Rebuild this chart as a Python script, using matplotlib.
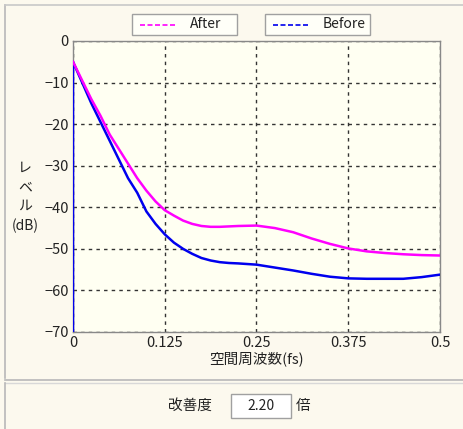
import matplotlib
matplotlib.use('Agg')
import matplotlib.pyplot as plt
from matplotlib.lines import Line2D
from matplotlib.patches import Rectangle

plt.rcParams['font.family'] = ['Noto Sans CJK JP', 'DejaVu Sans']

# spatial frequency (fs) and level (dB)
freq = [0, 0.0125, 0.025, 0.0375, 0.05, 0.0625, 0.075, 0.0875, 0.1, 0.1125,
        0.125, 0.1375, 0.15, 0.1625, 0.175, 0.1875, 0.2, 0.2125, 0.225, 0.25,
        0.275, 0.3, 0.325, 0.35, 0.375, 0.4, 0.425, 0.45, 0.475, 0.5]
before = [-5, -10, -15, -19.5, -24, -28.5, -33, -36.5, -41, -44,
          -46.5, -48.5, -50, -51.2, -52.2, -52.8, -53.2, -53.4, -53.5, -53.8,
          -54.5, -55.2, -56, -56.7, -57.1, -57.2, -57.2, -57.2, -56.8, -56.2]
after = [-5, -9.5, -14, -18, -22.5, -26, -29.5, -33, -36, -38.6,
         -40.7, -42, -43.2, -44, -44.5, -44.7, -44.7, -44.6, -44.5, -44.4,
         -45, -46, -47.5, -48.8, -49.9, -50.6, -51, -51.3, -51.5, -51.6]
xticks = [0, 0.125, 0.25, 0.375, 0.5]
xticklabels = ['0', '0.125', '0.25', '0.375', '0.5']
yticks = [0, -10, -20, -30, -40, -50, -60, -70]
improvement = '2.20'

bg = '#fcf9ee'
fig = plt.figure(figsize=(4.64, 4.29), dpi=100, facecolor=bg)
W, H = 464.0, 429.0

def fx(px):
    return px / W

def fy(py):
    return 1 - py / H

# panel frames
fig.add_artist(Line2D([fx(5), fx(5)], [fy(5), fy(378)], color='#b8b8b8', lw=1.2))
fig.add_artist(Line2D([fx(5), 1], [fy(5), fy(5)], color='#c8c8c8', lw=1.2))
fig.add_artist(Line2D([fx(5), 1], [fy(380), fy(380)], color='#b8b8b8', lw=1.2))
fig.add_artist(Line2D([fx(5), 1], [fy(383), fy(383)], color='#d8d8d8', lw=1.0))
fig.add_artist(Line2D([fx(5), fx(5)], [fy(383), 0], color='#b8b8b8', lw=1.2))

ax = fig.add_axes([fx(73), fy(332), fx(440) - fx(73), fy(41) - fy(332)])
ax.set_facecolor('#fffff2')

# Before series starts with a vertical edge at x=0
ax.plot([0] + freq, [-75] + before, color='#0000ee', lw=1.8, zorder=3)
ax.plot(freq, after, color='#ff00ff', lw=1.8, zorder=3)

ax.set_xlim(0, 0.5)
ax.set_ylim(-70, 0)
ax.set_xticks(xticks)
ax.set_xticklabels(xticklabels)
ax.set_yticks(yticks)
ax.set_yticklabels([str(v).replace('-', '\u2212') for v in yticks])
ax.tick_params(length=0, labelsize=10.5, colors='#222222', pad=3)
ax.grid(True, color='#333333', linestyle=(0, (2.5, 3)), lw=1.0)
for s in ax.spines.values():
    s.set_color('#888888')
    s.set_linewidth(1.0)

ax.set_xlabel('空間周波数(fs)', fontsize=10.5, color='#222222', labelpad=1)
fig.text(fx(25), fy(197), 'レ\nベ\nル\n(dB)', ha='center', va='center',
         fontsize=10, color='#222222', linespacing=1.45)

# legend boxes
def legend_box(x0, x1, color, label):
    fig.add_artist(Rectangle((fx(x0), fy(35)), fx(x1) - fx(x0), fy(14) - fy(35),
                             facecolor='#fffff8', edgecolor='#a0a0a0', lw=1.0))
    fig.add_artist(Line2D([fx(x0 + 8), fx(x0 + 45)], [fy(24.5), fy(24.5)],
                          color=color, lw=1.2, linestyle=(0, (3, 1.5))))
    fig.text(fx(x0 + 58), fy(24.5), label, ha='left', va='center',
             fontsize=10, color='#222222')

legend_box(132, 237, '#ff00ff', 'After')
legend_box(265, 370, '#0000ee', 'Before')

# improvement panel
fig.text(fx(190), fy(406), '改善度', ha='center', va='center', fontsize=10.5, color='#222222')
fig.add_artist(Rectangle((fx(231), fy(418)), fx(291) - fx(231), fy(394) - fy(418),
                         facecolor='white', edgecolor='#a0a0a0', lw=1.0))
fig.text(fx(261), fy(406), improvement, ha='center', va='center', fontsize=10, color='#222222')
fig.text(fx(303), fy(406), '倍', ha='center', va='center', fontsize=10.5, color='#222222')

fig.savefig('out.png', dpi=100, facecolor=bg)
